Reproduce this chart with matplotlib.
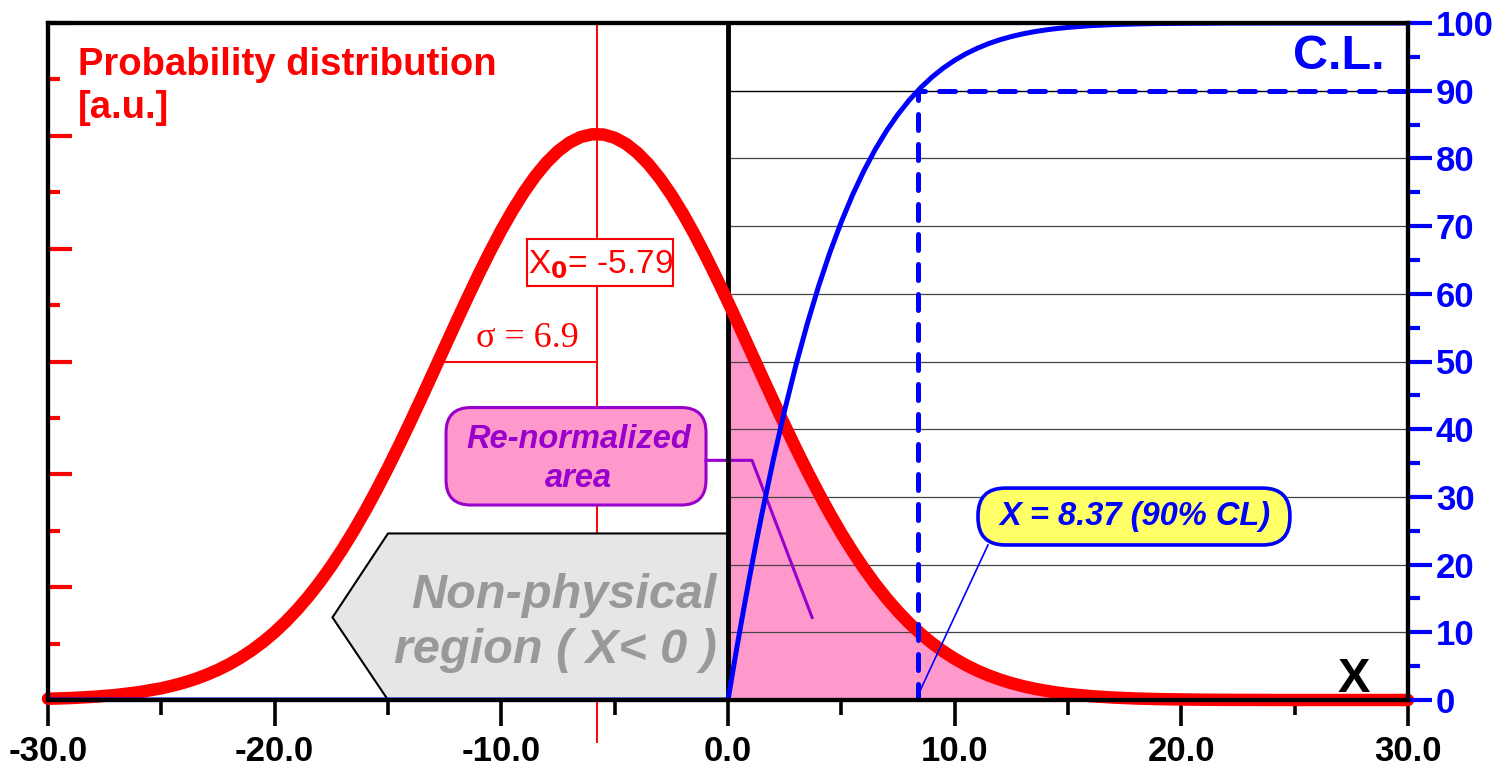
import numpy as np
import matplotlib
matplotlib.use("Agg")
import matplotlib.pyplot as plt
from matplotlib.patches import Polygon, Rectangle, FancyBboxPatch

plt.rcParams['font.family'] = ['Liberation Sans', 'DejaVu Sans']
plt.rcParams['mathtext.default'] = 'regular'

# fitted gaussian parameters shown on the chart
x0 = -5.79
sigma = 6.9
x_cl = 8.37
cl_level = 90

# probability distribution (on the 0-100 scale)
pdf_x = [-30, -29, -28, -27, -26, -25, -24.5, -24, -23.5, -23, -22.5, -22, -21.5, -21,
         -20.5, -20, -19.5, -19, -18.5, -18, -17.5, -17, -16.5, -16, -15.5, -15,
         -14.5, -14, -13.5, -13, -12.5, -12, -11.5, -11, -10.5, -10, -9.5, -9,
         -8.5, -8, -7.5, -7, -6.5, -6, -5.5, -5, -4.5, -4, -3.5, -3, -2.5, -2,
         -1.5, -1, -0.5, 0, 0.5, 1, 1.5, 2, 2.5, 3, 3.5, 4, 4.5, 5, 5.5, 6, 6.5,
         7, 7.5, 8, 8.5, 9, 9.5, 10, 10.5, 11, 11.5, 12, 12.5, 13, 13.5, 14, 14.5,
         15, 16, 17, 18, 19, 20, 21, 22, 23, 24, 26, 28, 30]
pdf_y = [0.18, 0.29, 0.47, 0.74, 1.15, 1.73, 2.12, 2.57, 3.10, 3.73, 4.45, 5.29, 6.26, 7.36,
         8.61, 10.02, 11.61, 13.37, 15.32, 17.46, 19.80, 22.33, 25.06, 27.97, 31.06, 34.30,
         37.69, 41.19, 44.78, 48.43, 52.10, 55.76, 59.36, 62.87, 66.23, 69.41, 72.34, 75.02,
         77.39, 79.42, 81.07, 82.32, 83.16, 83.56, 83.53, 83.05, 82.15, 80.83, 79.12, 77.04,
         74.62, 71.90, 68.91, 65.70, 62.31, 58.79, 55.18, 51.51, 47.84, 44.20, 40.62, 37.13,
         33.77, 30.56, 27.50, 24.61, 21.92, 19.42, 17.11, 15.00, 13.08, 11.34, 9.79, 8.40,
         7.18, 6.10, 5.15, 4.33, 3.62, 3.01, 2.49, 2.05, 1.68, 1.37, 1.11,
         0.89, 0.57, 0.36, 0.22, 0.13, 0.08, 0.04, 0.02, 0.01, 0.0, 0.0, 0.0, 0.0]

# confidence level of the re-normalized distribution [%]
cl_x = [-30, 0, 0.25, 0.5, 0.75, 1, 1.25, 1.5, 2, 2.5, 3, 3.5, 4, 4.5, 5, 5.5, 6, 6.5,
        7, 7.5, 8, 8.5, 9, 9.5, 10, 10.5, 11, 11.5, 12, 12.5, 13, 13.5, 14, 14.5,
        15, 16, 17, 18, 19, 20, 22, 25, 30]
cl_y = [0, 0, 4.98, 9.82, 14.49, 19.00, 23.37, 27.57, 35.50, 42.80, 49.50, 55.61,
        61.15, 66.15, 70.63, 74.64, 78.20, 81.35, 84.11, 86.52, 88.62, 90.44, 92.01,
        93.35, 94.49, 95.46, 96.27, 96.96, 97.53, 98.00, 98.39, 98.71, 98.97, 99.18,
        99.35, 99.61, 99.76, 99.86, 99.92, 99.95, 99.99, 100, 100]

x_ticks = [-30, -20, -10, 0, 10, 20, 30]
x_labels = ["-30.0", "-20.0", "-10.0", "0.0", "10.0", "20.0", "30.0"]
cl_ticks = list(range(0, 101, 10))

RED = '#FF0000'
BLUE = '#0000FF'
PURPLE = '#9900CC'
PINK = '#FF99CC'

fig = plt.figure(figsize=(15.02, 7.69), dpi=100)
ax = fig.add_axes([48 / 1502, 69 / 769, 1360 / 1502, 677 / 769])
ax.set_xlim(-30, 30)
ax.set_ylim(0, 100)
ax2 = ax.twinx()
ax2.set_ylim(0, 100)

aspect = (1360 / 60) / (677 / 100)

# pink area for x >= 0
px = np.array(pdf_x)
py = np.array(pdf_y)
m = px >= 0
ax.fill_between(px[m], 0, py[m], color=PINK, lw=0, zorder=1)

# horizontal grid in physical region
for v in cl_ticks[1:-1]:
    ax.plot([0, 30], [v, v], color='#444444', lw=0.9, zorder=2)

# non physical region arrow
ax.add_patch(Polygon([(0, 24.6), (-15.0, 24.6), (-17.45, 12.2), (-15.0, 0), (0, 0)],
                     closed=True, facecolor='#E6E6E6', edgecolor='black', lw=1.5, zorder=3))
ax.text(-0.5, 13.6, "Non-physical", ha='right', va='baseline', fontsize=35,
        fontweight='bold', fontstyle='italic', color='#999999', zorder=4)
ax.text(-0.5, 5.5, "region ( X< 0 )", ha='right', va='baseline', fontsize=35,
        fontweight='bold', fontstyle='italic', color='#999999', zorder=4)

# x0 line and sigma
ax.plot([x0, x0], [100, -6.2], color=RED, lw=1.4, zorder=2.5, clip_on=False)
ax.plot([x0 - sigma, x0], [50, 50], color=RED, lw=1.4, zorder=2.5)
ax.text(-8.87, 50.9, "\u03c3 = 6.9", ha='center', va='bottom', fontsize=26,
        color=RED, family=['Liberation Serif', 'DejaVu Serif'], zorder=4)
ax.add_patch(Rectangle((-8.87, 61.2), 6.44, 6.9, facecolor='white', edgecolor=RED,
                       lw=1.5, zorder=4))
ax.text(-5.63, 63.0, "X$_{\\mathbf{0}}$= -5.79", ha='center', va='baseline', fontsize=24,
        color=RED, zorder=5)

# re-normalized area label
ax.add_patch(FancyBboxPatch((-12.44, 28.8), 11.47, 14.4,
                            boxstyle="round,pad=0,rounding_size=1.1", mutation_aspect=aspect,
                            facecolor=PINK, edgecolor=PURPLE, lw=2.2, zorder=4))
ax.text(-6.6, 37.2, "Re-normalized", ha='center', va='baseline', fontsize=23.5,
        fontweight='bold', fontstyle='italic', color=PURPLE, zorder=5)
ax.text(-6.6, 31.4, "area", ha='center', va='baseline', fontsize=23.5,
        fontweight='bold', fontstyle='italic', color=PURPLE, zorder=5)
ax.plot([-0.97, 1.06, 3.71], [35.4, 35.4, 12.2], color=PURPLE, lw=2.2, zorder=4)

# zero line
ax.plot([0, 0], [0, 100], color='black', lw=3.5, zorder=5)

# curves
ax.plot(pdf_x, pdf_y, color=RED, lw=9, solid_capstyle='round', solid_joinstyle='round',
        zorder=6, clip_on=False)
ax.plot(cl_x, cl_y, color=BLUE, lw=3.6, solid_joinstyle='round', zorder=7)

# 90% CL limit
ax.plot([0, 30], [cl_level, cl_level], color='black', lw=0.9, zorder=2)
ax.plot([x_cl, x_cl, 30], [0, cl_level, cl_level], color=BLUE, lw=3.6,
        linestyle=(0, (3.2, 2.8)), dash_capstyle='round', zorder=7)

ax.add_patch(FancyBboxPatch((11.03, 22.9), 13.76, 8.4,
                            boxstyle="round,pad=0,rounding_size=1.2", mutation_aspect=aspect,
                            facecolor='#FFFF66', edgecolor=BLUE, lw=2.6, zorder=8))
ax.text(17.95, 27.1, "X = 8.37 (90% CL)", ha='center', va='center', fontsize=23.5,
        fontweight='bold', fontstyle='italic', color=BLUE, zorder=9)
ax.plot([11.47, 8.38], [22.9, 0.7], color=BLUE, lw=1.2, zorder=8)

# axis titles
ax.text(-28.68, 92.3, "Probability distribution", ha='left', va='baseline', fontsize=27.5,
        fontweight='bold', color=RED)
ax.text(-28.68, 86.0, "[a.u.]", ha='left', va='baseline', fontsize=27.5,
        fontweight='bold', color=RED)
ax.text(28.98, 93.2, "C.L.", ha='right', va='baseline', fontsize=35,
        fontweight='bold', color=BLUE)
ax.text(27.6, 1.2, "X", ha='center', va='baseline', fontsize=35,
        fontweight='bold', color='black', zorder=9)

# ticks
ax.set_xticks(x_ticks)
ax.set_xticklabels(x_labels)
ax.set_xticks(np.arange(-25, 30, 10), minor=True)
ax.tick_params(axis='x', which='major', direction='out', length=19, width=2.6,
               color='black', pad=6, labelsize=25)
ax.tick_params(axis='x', which='minor', direction='out', length=11, width=2.6, color='black')
for lab in ax.get_xticklabels():
    lab.set_fontweight('bold')

ax.set_yticks(np.arange(0, 100.1, 100 / 6))
ax.set_yticks(np.arange(100 / 12, 100, 100 / 6), minor=True)
ax.tick_params(axis='y', which='major', direction='in', length=17, width=3,
               color=RED, labelleft=False)
ax.tick_params(axis='y', which='minor', direction='in', length=8.5, width=3, color=RED)

ax2.set_yticks(cl_ticks)
ax2.set_yticks(range(5, 100, 10), minor=True)
ax2.tick_params(axis='y', which='major', direction='out', length=17, width=3,
                color=BLUE, labelcolor=BLUE, labelsize=25, pad=3)
ax2.tick_params(axis='y', which='minor', direction='out', length=8.5, width=3, color=BLUE)
for lab in ax2.get_yticklabels():
    lab.set_fontweight('bold')

for a in (ax, ax2):
    for s in a.spines.values():
        s.set_linewidth(3)
        s.set_color('black')
        s.set_zorder(10)

fig.savefig("out.png", dpi=100)
